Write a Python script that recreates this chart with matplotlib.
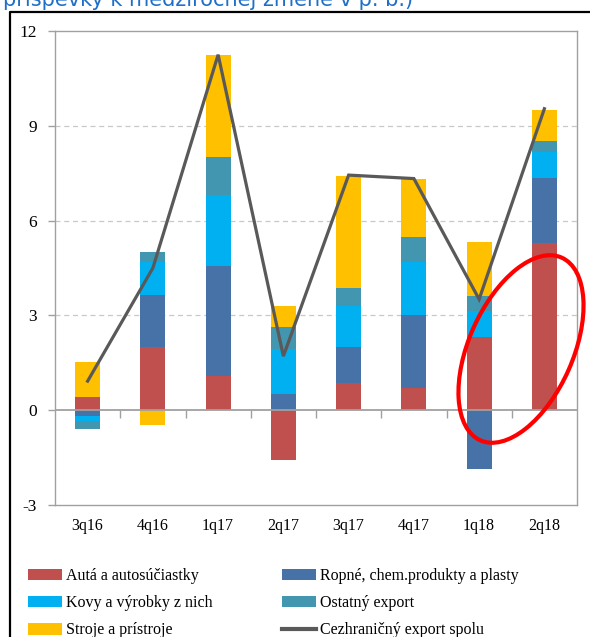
#!/usr/bin/env python3

import numpy as np
import matplotlib
matplotlib.use('Agg')
import matplotlib.pyplot as plt
from matplotlib.patches import Ellipse, Patch
from matplotlib.lines import Line2D

# stvrtroky
quarters = ["3q16", "4q16", "1q17", "2q17", "3q17", "4q17", "1q18", "2q18"]

# prispevky k medzirocnej zmene (p. b.)
auta = [0.43, 2.00, 1.07, -1.58, 0.85, 0.69, 2.31, 5.28]
ropne = [-0.19, 1.63, 3.49, 0.50, 1.15, 2.33, -1.87, 2.08]
kovy = [-0.16, 1.05, 2.24, 1.43, 1.30, 1.66, 0.83, 0.81]
ostatny = [-0.24, 0.33, 1.21, 0.69, 0.56, 0.81, 0.47, 0.36]
stroje = [1.08, -0.47, 3.22, 0.68, 3.54, 1.83, 1.71, 0.98]
spolu = [0.92, 4.50, 11.25, 1.71, 7.44, 7.33, 3.51, 9.54]

series = [
    ("Autá a autosúčiastky", auta, "#C0504D"),
    ("Ropné, chem.produkty a plasty", ropne, "#4672A8"),
    ("Kovy a výrobky z nich", kovy, "#00B0F0"),
    ("Ostatný export", ostatny, "#4396B0"),
    ("Stroje a prístroje", stroje, "#FFC000"),
]
total_label = "Cezhraničný export spolu"

plt.rcParams['font.family'] = ['Liberation Serif', 'DejaVu Serif']

fig = plt.figure(figsize=(5.9, 6.37), dpi=100)
ax = fig.add_axes([55 / 590, 1 - 505 / 637, 522 / 590, 474 / 637])

x = np.arange(len(quarters))
pos_base = np.zeros(len(quarters))
neg_base = np.zeros(len(quarters))
handles = {}
for name, vals, col in series:
    v = np.array(vals)
    base = np.where(v >= 0, pos_base, neg_base)
    ax.bar(x, v, bottom=base, width=0.385, color=col, zorder=2)
    pos_base = pos_base + np.clip(v, 0, None)
    neg_base = neg_base + np.clip(v, None, 0)
    handles[name] = Patch(facecolor=col)

ax.plot(x, spolu, color="#595959", lw=2.3, zorder=4, solid_joinstyle='miter')

ax.set_xlim(-0.5, len(quarters) - 0.5)
ax.set_ylim(-3, 12)
ax.set_yticks([-3, 0, 3, 6, 9, 12])
ax.set_yticklabels(["-3", "0", "3", "6", "9", "12"])
ax.set_xticks(x)
ax.set_xticklabels(quarters)
ax.tick_params(axis='x', length=0, pad=9, labelsize=11.5)
ax.tick_params(axis='y', length=5, width=1, color="#A0A0A0", pad=8,
               labelsize=12.5)

for y in [3, 6, 9]:
    ax.axhline(y, color="#C8C8C8", lw=0.9, ls=(0, (4, 3)), zorder=1)
ax.axhline(0, color="#A0A0A0", lw=1.3, zorder=3)
# tick marks between categories on the zero line
ax.vlines(np.arange(0.5, len(quarters) - 1), -0.24, 0, color="#A0A0A0",
          lw=1, zorder=3)

for s in ax.spines.values():
    s.set_color("#A0A0A0")
    s.set_linewidth(1)

# red ellipse highlighting the last two quarters
ell = Ellipse((5.21, 2.88), 2.00, 1.04, angle=66, fill=False,
              edgecolor="#FF0000", lw=3, transform=fig.dpi_scale_trans,
              zorder=10)
fig.add_artist(ell)

# legend (column-first order gives the row pairs of the original)
line_tot_h = Line2D([], [], color="#595959", lw=3)
leg_handles = [handles["Autá a autosúčiastky"], handles["Kovy a výrobky z nich"],
               handles["Stroje a prístroje"],
               handles["Ropné, chem.produkty a plasty"], handles["Ostatný export"],
               line_tot_h]
leg_labels = ["Autá a autosúčiastky", "Kovy a výrobky z nich", "Stroje a prístroje",
              "Ropné, chem.produkty a plasty", "Ostatný export", total_label]
fig.legend(leg_handles, leg_labels, ncol=2, loc='upper left',
           bbox_to_anchor=(28 / 590, 1 - 568 / 637), frameon=False,
           borderpad=0, borderaxespad=0, handlelength=2.1, handleheight=0.75,
           handletextpad=0.25, labelspacing=0.7, columnspacing=4.4,
           fontsize=11.5)

# outer frame of the box
fig.add_artist(Line2D([10 / 590, 10 / 590, 1.0], [0, 1 - 12 / 637, 1 - 12 / 637],
                      transform=fig.transFigure, color="black", lw=1.6))

# cut-off heading above the box
fig.text(3 / 590, 1 - 6 / 637, "príspevky k medziročnej zmene v p. b.)",
         color="#1F6FC8", fontsize=15, family='DejaVu Sans', va='baseline')

plt.savefig("out.png", dpi=100)
